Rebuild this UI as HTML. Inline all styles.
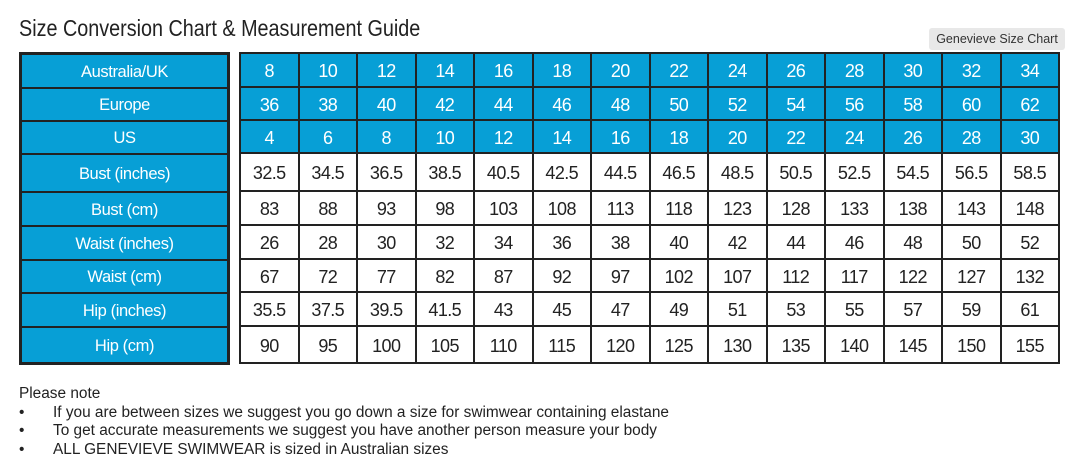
<!DOCTYPE html>
<html><head><meta charset="utf-8"><style>
body{margin:0;width:1080px;height:472px;background:#fff;overflow:hidden;font-family:"Liberation Sans",sans-serif;position:relative}
.title{position:absolute;left:19px;top:15px;font-size:23px;color:#222;transform:scaleX(0.86);transform-origin:0 0;white-space:nowrap}
.tip{position:absolute;left:929px;top:28px;width:136px;height:22px;background:#e8e8e8;border-radius:3px;font-size:12.5px;color:#333;text-align:center;line-height:22px}
table{position:absolute;border-collapse:collapse;top:52px}
td{border:2px solid #222;text-align:center;padding:0;font-size:18px;letter-spacing:-0.6px;padding-top:3px}
#L{left:19px;width:211px;border:3px solid #222}
#L td{background:#079fd6;color:#fff;font-size:16.5px;letter-spacing:-0.4px}
#R{left:239px;width:821px}
#R td{color:#222;width:58px}
#R tr.b td{background:#079fd6;color:#fff}
.note{position:absolute;left:19px;top:385px;font-size:15.4px;color:#222;line-height:18.5px}
.note span{display:inline-block;width:34px}
</style></head><body>
<div class="title">Size Conversion Chart &amp; Measurement Guide</div>
<div class="tip">Genevieve Size Chart</div>
<table id="L">
<tr style="height:34px"><td>Australia/UK</td></tr>
<tr style="height:33px"><td>Europe</td></tr>
<tr style="height:33px"><td>US</td></tr>
<tr style="height:38px"><td>Bust (inches)</td></tr>
<tr style="height:34px"><td>Bust (cm)</td></tr>
<tr style="height:34px"><td>Waist (inches)</td></tr>
<tr style="height:33px"><td>Waist (cm)</td></tr>
<tr style="height:34px"><td>Hip (inches)</td></tr>
<tr style="height:37px"><td>Hip (cm)</td></tr>
</table>
<table id="R">
<tr class="b" style="height:34px"><td>8</td><td>10</td><td>12</td><td>14</td><td>16</td><td>18</td><td>20</td><td>22</td><td>24</td><td>26</td><td>28</td><td>30</td><td>32</td><td>34</td></tr>
<tr class="b" style="height:33px"><td>36</td><td>38</td><td>40</td><td>42</td><td>44</td><td>46</td><td>48</td><td>50</td><td>52</td><td>54</td><td>56</td><td>58</td><td>60</td><td>62</td></tr>
<tr class="b" style="height:33px"><td>4</td><td>6</td><td>8</td><td>10</td><td>12</td><td>14</td><td>16</td><td>18</td><td>20</td><td>22</td><td>24</td><td>26</td><td>28</td><td>30</td></tr>
<tr style="height:38px"><td>32.5</td><td>34.5</td><td>36.5</td><td>38.5</td><td>40.5</td><td>42.5</td><td>44.5</td><td>46.5</td><td>48.5</td><td>50.5</td><td>52.5</td><td>54.5</td><td>56.5</td><td>58.5</td></tr>
<tr style="height:34px"><td>83</td><td>88</td><td>93</td><td>98</td><td>103</td><td>108</td><td>113</td><td>118</td><td>123</td><td>128</td><td>133</td><td>138</td><td>143</td><td>148</td></tr>
<tr style="height:34px"><td>26</td><td>28</td><td>30</td><td>32</td><td>34</td><td>36</td><td>38</td><td>40</td><td>42</td><td>44</td><td>46</td><td>48</td><td>50</td><td>52</td></tr>
<tr style="height:33px"><td>67</td><td>72</td><td>77</td><td>82</td><td>87</td><td>92</td><td>97</td><td>102</td><td>107</td><td>112</td><td>117</td><td>122</td><td>127</td><td>132</td></tr>
<tr style="height:34px"><td>35.5</td><td>37.5</td><td>39.5</td><td>41.5</td><td>43</td><td>45</td><td>47</td><td>49</td><td>51</td><td>53</td><td>55</td><td>57</td><td>59</td><td>61</td></tr>
<tr style="height:37px"><td>90</td><td>95</td><td>100</td><td>105</td><td>110</td><td>115</td><td>120</td><td>125</td><td>130</td><td>135</td><td>140</td><td>145</td><td>150</td><td>155</td></tr>
</table>
<div class="note">Please note<br>
<span>•</span>If you are between sizes we suggest you go down a size for swimwear containing elastane<br>
<span>•</span>To get accurate measurements we suggest you have another person measure your body<br>
<span>•</span>ALL GENEVIEVE SWIMWEAR is sized in Australian sizes</div>
</body></html>
